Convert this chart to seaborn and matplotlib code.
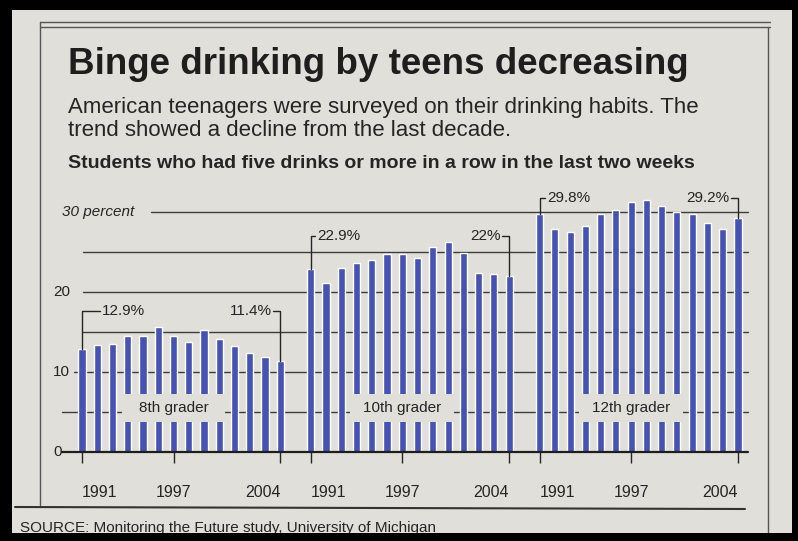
import pandas as pd
import matplotlib.pyplot as plt
import seaborn as sns
from matplotlib.patches import Rectangle

sns.set_style("white")
plt.rcParams['font.family'] = ['Liberation Sans', 'DejaVu Sans']

years = list(range(1991, 2005))
grade8 = [12.9, 13.4, 13.5, 14.5, 14.5, 15.6, 14.5, 13.7, 15.2, 14.1, 13.2, 12.4, 11.9, 11.4]
grade10 = [22.9, 21.1, 23.0, 23.6, 24.0, 24.8, 24.7, 24.3, 25.6, 26.2, 24.9, 22.4, 22.2, 22.0]
grade12 = [29.8, 27.9, 27.5, 28.2, 29.8, 30.2, 31.3, 31.5, 30.8, 30.0, 29.7, 28.6, 27.9, 29.2]
groups = ['8th grader', '10th grader', '12th grader']
tick_years = [1991, 1997, 2004]

rows = []
for g, (name, vals) in enumerate(zip(groups, [grade8, grade10, grade12])):
    for i, (yr, v) in enumerate(zip(years, vals)):
        rows.append({'grade': name, 'year': yr, 'pos': g * 15 + i, 'pct': v})
df = pd.DataFrame(rows)

W, H = 798, 541
paper = '#e1dfd9'
ink = '#252525'
blue = '#4753b2'

fig = plt.figure(figsize=(W / 100, H / 100), dpi=100, facecolor='black')
fig.patches.append(Rectangle((12 / W, 0), 780 / W, 1 - 10 / H, transform=fig.transFigure,
                             facecolor=paper, edgecolor='none', zorder=-5))


def fx(px):
    return px / W


def fy(py):
    return 1 - py / H


# frame lines of the clipping
for yy in (22, 27):
    fig.add_artist(plt.Line2D([fx(40), fx(770)], [fy(yy), fy(yy)], color='#555', lw=1))
fig.add_artist(plt.Line2D([fx(40), fx(40)], [fy(22), fy(505)], color='#555', lw=1))
fig.add_artist(plt.Line2D([fx(768), fx(768)], [fy(27), fy(541)], color='#555', lw=1))
fig.add_artist(plt.Line2D([fx(15), fx(745)], [fy(507), fy(509)], color='#333', lw=1.5))

fig.text(fx(68), fy(65), 'Binge drinking by teens decreasing', fontsize=26.5, fontweight='bold',
         color='#1e1e1e', va='center', ha='left')
fig.text(fx(68), fy(108), 'American teenagers were surveyed on their drinking habits. The',
         fontsize=16, color=ink, va='center')
fig.text(fx(68), fy(131), 'trend showed a decline from the last decade.',
         fontsize=16, color=ink, va='center')
fig.text(fx(68), fy(163), 'Students who had five drinks or more in a row in the last two weeks',
         fontsize=14, fontweight='bold', color=ink, va='center')
fig.text(fx(20), fy(528), 'SOURCE: Monitoring the Future study, University of Michigan',
         fontsize=11, color=ink, va='center')

# black photo border on the bottom
fig.patches.append(Rectangle((0, 0), 1, 8 / H, transform=fig.transFigure,
                             facecolor='black', edgecolor='none', zorder=10))

ax = fig.add_axes([fx(62), fy(452), fx(748) - fx(62), 264 / H])
ax.patch.set_alpha(0)

sns.barplot(data=df, x='pos', y='pct', native_scale=True, width=0.47, color=blue,
            saturation=1, errorbar=None, ax=ax, zorder=2)

ax.set_xlim(-1.31, 43.66)
ax.set_ylim(0, 33)

# grid lines
for val, start in [(5, 0.0), (10, 0.018), (15, 0.03), (20, 0.03), (25, 0.03), (30, 0.13)]:
    ax.axhline(val, xmin=start, xmax=1, color='#3c3c3c', lw=1, zorder=1)
ax.axhline(0, xmin=0.0, xmax=1, color='#1e1e1e', lw=1.6, zorder=4)

ax.text(0.0, 30, '30 percent', transform=ax.get_yaxis_transform(), ha='left', va='center',
        fontsize=11, style='italic', color=ink)
for val in (20, 10):
    ax.text(0.012, val, str(val), transform=ax.get_yaxis_transform(), ha='right', va='center',
            fontsize=11, color=ink)
ax.text(0.0, 0, '0', transform=ax.get_yaxis_transform(), ha='right', va='center',
        fontsize=11, color=ink)

# label boxes cutting the bars
for g, name in enumerate(groups):
    base = g * 15
    ax.add_patch(Rectangle((base + 2.6, 3.7), 6.8, 3.6, facecolor=paper, edgecolor='none', zorder=3))
    ax.text(base + 6, 5.5, name, ha='center', va='center', fontsize=11, color=ink, zorder=5)

# first / last value brackets
label_y = [17.6, 27.0, 31.8]
left_gap = [1.3, 0.4, 0.5]
for g, vals in enumerate([grade8, grade10, grade12]):
    x0, x1 = g * 15, g * 15 + 13
    ly = label_y[g]
    ax.plot([x0, x0, x0 + left_gap[g] - 0.15], [vals[0], ly, ly], color=ink, lw=1, zorder=5)
    ax.text(x0 + left_gap[g], ly, f'{vals[0]:g}%', ha='left', va='center', fontsize=11, color=ink)
    ax.plot([x1, x1, x1 - 0.45], [vals[-1], ly, ly], color=ink, lw=1, zorder=5)
    ax.text(x1 - 0.55, ly, f'{vals[-1]:g}%', ha='right', va='center', fontsize=11, color=ink)

for ln in ax.lines:
    ln.set_clip_on(False)

# year ticks
tick_pos = [g * 15 + years.index(y) for g in range(3) for y in tick_years]
tick_lab = [str(y) for g in range(3) for y in tick_years]
ax.set_xticks(tick_pos)
ax.set_xticklabels(tick_lab, fontsize=11.5, color=ink)
for i, lab in enumerate(ax.get_xticklabels()):
    lab.set_ha(['left', 'center', 'right'][i % 3])
ax.tick_params(axis='x', length=8, width=1, color=ink, pad=16, direction='out', bottom=True)
ax.set_yticks([])
ax.set_xlabel('')
ax.set_ylabel('')
sns.despine(ax=ax, left=True, bottom=True)

fig.savefig('out.png', dpi=100, facecolor='black')
